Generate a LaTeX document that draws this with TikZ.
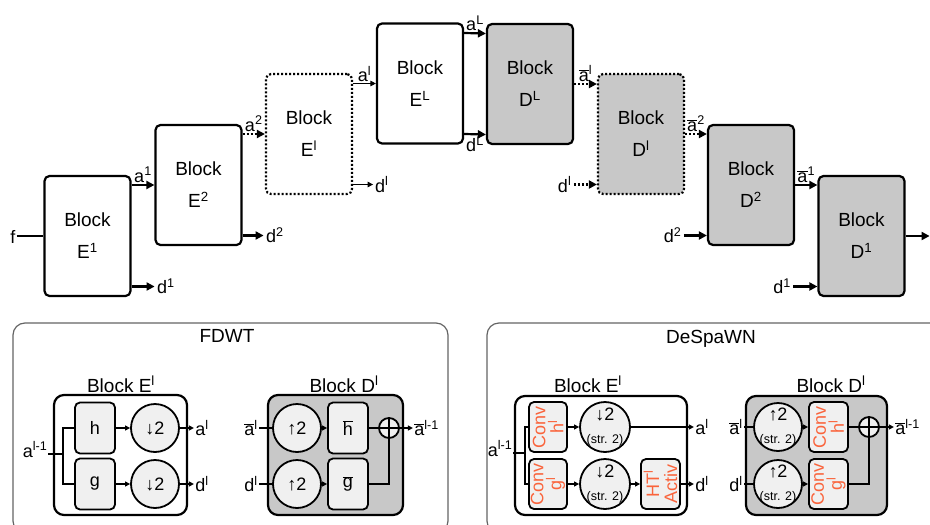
\documentclass[tikz,border=0pt]{standalone}
\usepackage{fontspec}
\setmainfont{Liberation Sans}
\usetikzlibrary{arrows.meta,calc}
\definecolor{dgray}{RGB}{200,200,200}
\definecolor{lgray}{RGB}{240,240,240}
\definecolor{convc}{RGB}{250,100,60}
\definecolor{framec}{RGB}{100,100,100}
\newcommand{\mysup}[1]{\textsuperscript{#1}}
\newcommand{\myab}{\ensuremath{\overline{\mbox{a}}}}
\newcommand{\myhb}{\ensuremath{\overline{\mbox{h}}}}
\newcommand{\mygb}{\ensuremath{\overline{\mbox{g}}}}
\newcommand{\mydn}{{\bfseries ↓}2}
\newcommand{\myup}{{\bfseries ↑}2}
\begin{document}
\begin{tikzpicture}[x=1pt,y=-1pt,
  font=\fontsize{18}{20}\selectfont,
  blk/.style={draw, line width=2.2pt, rounded corners=5pt, minimum width=86pt, minimum height=120pt, align=center, inner sep=0pt, font=\fontsize{19}{32}\selectfont},
  dotb/.style={dash pattern=on 2pt off 2pt},
  con/.style={line width=2.2pt, -{Triangle[length=8pt,width=8pt]}},
  conD/.style={con, dash pattern=on 2pt off 2pt},
  conT/.style={line width=1.1pt, -{Triangle[length=5.5pt,width=5.5pt]}},
  labl/.style={inner sep=1.5pt},
  outerbox/.style={draw, line width=2.2pt, rounded corners=10pt, inner sep=0pt},
  ibox/.style={draw, line width=1.8pt, rounded corners=5pt, fill=lgray, minimum width=40pt, minimum height=51pt, inner sep=0pt},
  cbox/.style={ibox, minimum width=38pt, minimum height=50pt},
  circ/.style={draw, circle, line width=1.8pt, fill=lgray, minimum size=48pt, inner sep=0pt},
  plusc/.style={draw, circle, line width=1.8pt, fill=lgray, minimum size=20pt, inner sep=0pt},
  sa/.style={line width=1.8pt, -{Triangle[length=5pt,width=5pt]}},
  sl/.style={line width=1.8pt},
  rot/.style={rotate=90, align=center, text=convc, inner sep=0pt, font=\fontsize{18}{18}\selectfont},
  strt/.style={inner sep=0pt, font=\fontsize{12.5}{14}\selectfont},
  ttl/.style={inner sep=0pt, font=\fontsize{19}{22}\selectfont}
]
\useasboundingbox (0,0) rectangle (930,525);

% ---------- top row ----------
\node[blk] (E1) at (87.5,236) {Block\\E\mysup{1}};
\node[blk] (E2) at (198.5,185) {Block\\E\mysup{2}};
\node[blk, dotb] (El) at (309,134) {Block\\E\mysup{l}};
\node[blk] (EL) at (420,83.5) {Block\\E\mysup{L}};
\node[blk, fill=dgray] (DL) at (530,84) {Block\\D\mysup{L}};
\node[blk, fill=dgray, dotb] (Dl) at (641,134) {Block\\D\mysup{l}};
\node[blk, fill=dgray] (D2) at (751,185) {Block\\D\mysup{2}};
\node[blk, fill=dgray] (D1) at (861.5,236) {Block\\D\mysup{1}};

\node[inner sep=1pt] (f) at (13,237) {f};
\draw[line width=2.2pt] (f.east |- E1.west) -- (E1.west);

\draw[con] (E1.east |- E2.west) -- (E2.west) node[midway, above, labl] {a\mysup{1}};
\draw[con] ($(E1.east)+(0,50.5)$) -- +(23,0) node[right, labl] {d\mysup{1}};
\draw[conD] (E2.east |- El.west) -- (El.west) node[midway, above, labl] {a\mysup{2}};
\draw[con] ($(E2.east)+(0,50.5)$) -- +(21,0) node[right, labl] {d\mysup{2}};
\draw[conT] (El.east |- EL.west) -- (EL.west) node[midway, above, labl] {a\mysup{l}};
\draw[conT] ($(El.east)+(0,50.5)$) -- +(20,0) node[right, labl] {d\mysup{l}};
\draw[con] ($(EL.east)+(0,-50.5)$) -- ($(DL.west)+(0,-50.5)$) node[midway, above, labl] {a\mysup{L}};
\draw[con] ($(EL.east)+(0,50.5)$) -- ($(DL.west)+(0,50.5)$) node[midway, below, labl] {d\mysup{L}};
\draw[conD] (DL.east) -- (DL.east -| Dl.west) node[midway, above, labl] {\myab\mysup{l}};
\draw[conD] ($(Dl.west)+(-23,50.5)$) node[left, labl] {d\mysup{l}} -- ($(Dl.west)+(0,50.5)$);
\draw[conD] (Dl.east) -- (Dl.east -| D2.west) node[midway, above, labl] {\myab\mysup{2}};
\draw[con] ($(D2.west)+(-23,50.5)$) node[left, labl] {d\mysup{2}} -- ($(D2.west)+(0,50.5)$);
\draw[con] (D2.east) -- (D2.east -| D1.west) node[midway, above, labl] {\myab\mysup{1}};
\draw[con] ($(D1.west)+(-24,50.5)$) node[left, labl] {d\mysup{1}} -- ($(D1.west)+(0,50.5)$);
\draw[con] (D1.east) -- +(24,0);

% ---------- panels ----------
\begin{scope}
\clip (0,0) rectangle (930,525);
\draw[framec, line width=1.2pt, rounded corners=12pt] (13,323) rectangle (448,533);
\draw[framec, line width=1.2pt, rounded corners=12pt] (487,323) rectangle (960,533);
\end{scope}
\node[ttl, anchor=base] at (227,342) {FDWT};
\node[ttl, anchor=base] at (711,343) {DeSpaWN};

% ---------- FDWT Block E ----------
\node[outerbox, minimum width=133pt, minimum height=120pt] (FE) at (120.5,455) {};
\node[ttl, anchor=base] at (121,392) {Block E\mysup{l}};
\node[ibox] (Fh) at (95,428) {h};
\node[ibox] (Fg) at (95,484) {g};
\node[circ] (Fc1) at (155,428) {\mydn};
\node[circ] (Fc2) at (155,484) {\mydn};
\coordinate (Fin) at (48,454);
\coordinate (Ffk) at (63,454);
\node[anchor=base east, inner sep=0.5pt] at (48,457) {a\mysup{l-1}};
\draw[sl] (Fin) -- (Ffk);
\draw[sl] (Fh.west) -| (Ffk) |- (Fg.west);
\draw[sa] (Fh) -- (Fc1);
\draw[sa] (Fg) -- (Fc2);
\draw[sa] (Fc1.east) -- +(14,0) node[right, inner sep=0.5pt] {a\mysup{l}};
\draw[sa] (Fc2.east) -- +(14,0) node[right, inner sep=0.5pt] {d\mysup{l}};

% ---------- FDWT Block D ----------
\node[outerbox, fill=dgray, minimum width=135pt, minimum height=120pt] (FD) at (335.5,455) {};
\node[ttl, anchor=base] at (344,392) {Block D\mysup{l}};
\node[circ] (Fu1) at (297,428) {\myup};
\node[circ] (Fu2) at (297,484) {\myup};
\node[ibox] (Fhb) at (348,428) {\myhb};
\node[ibox] (Fgb) at (348,484) {\mygb};
\node[plusc] (Fp) at (389,428) {};
\draw[sl] (Fp.north) -- (Fp.south) (Fp.west) -- (Fp.east);
\draw[sl] (Fu1.west) -- +(-13,0) node[left, inner sep=0.5pt] {\myab\mysup{l}};
\draw[sl] (Fu2.west) -- +(-13,0) node[left, inner sep=0.5pt] {d\mysup{l}};
\draw[sa] (Fu1) -- (Fhb);
\draw[sa] (Fu2) -- (Fgb);
\draw[sl] (Fhb) -- (Fp);
\draw[sl] (Fgb.east) -| (Fp.south);
\draw[sa] (Fp.east) -- +(13,0) node[right, inner sep=0.5pt] {\myab\mysup{l-1}};

% ---------- DeSpaWN Block E ----------
\node[outerbox, minimum width=172pt, minimum height=119pt] (SE) at (601,455.5) {};
\node[ttl, anchor=base] at (588,392) {Block E\mysup{l}};
\node[cbox] (Ch1) at (548,427) {};
\node[rot] at (Ch1) {Conv\\h\mysup{l}};
\node[cbox] (Cg1) at (548,484) {};
\node[rot] at (Cg1) {Conv\\g\mysup{l}};
\node[circ, minimum size=50pt] (Sc1) at (605,427) {};
\node[inner sep=0pt] at ($(Sc1)+(0,-13)$) {\mydn};
\node[strt] at ($(Sc1)+(0,13)$) {(str. 2)};
\node[circ, minimum size=50pt] (Sc2) at (605,484) {};
\node[inner sep=0pt] at ($(Sc2)+(0,-13)$) {\mydn};
\node[strt] at ($(Sc2)+(0,13)$) {(str. 2)};
\node[cbox, minimum width=39pt] (HT) at (660.5,484) {};
\node[rot] at (HT) {HT\mysup{l}\\Activ};
\coordinate (Sin) at (513,453);
\coordinate (Sfk) at (525,453);
\node[anchor=base east, inner sep=0.5pt] at (513,456) {a\mysup{l-1}};
\draw[sl] (Sin) -- (Sfk);
\draw[sl] (Ch1.west) -| (Sfk) |- (Cg1.west);
\draw[sa] (Ch1) -- (Sc1);
\draw[sa] (Cg1) -- (Sc2);
\draw[sa] (Sc2) -- (HT);
\draw[sa] (Sc1.east) -- +(63,0) node[right, inner sep=0.5pt] {a\mysup{l}};
\draw[sa] (HT.east) -- +(13,0) node[right, inner sep=0.5pt] {d\mysup{l}};

% ---------- DeSpaWN Block D ----------
\node[outerbox, fill=dgray, minimum width=141pt, minimum height=119pt] (SD) at (816.5,455.5) {};
\node[ttl, anchor=base] at (831,392) {Block D\mysup{l}};
\node[circ] (Su1) at (778,427) {};
\node[inner sep=0pt] at ($(Su1)+(0,-13)$) {\myup};
\node[strt] at ($(Su1)+(0,13)$) {(str. 2)};
\node[circ] (Su2) at (778,484) {};
\node[inner sep=0pt] at ($(Su2)+(0,-13)$) {\myup};
\node[strt] at ($(Su2)+(0,13)$) {(str. 2)};
\node[cbox, minimum width=39pt] (Chb) at (828.5,427) {};
\node[rot] at (Chb) {Conv\\h\mysup{l}};
\node[cbox, minimum width=39pt] (Cgb) at (828.5,484) {};
\node[rot] at (Cgb) {Conv\\g\mysup{l}};
\node[plusc] (Sp) at (869,427) {};
\draw[sl] (Sp.north) -- (Sp.south) (Sp.west) -- (Sp.east);
\draw[sl] (Su1.west) -- +(-9,0) node[left, inner sep=0.5pt] {\myab\mysup{l}};
\draw[sl] (Su2.west) -- +(-9,0) node[left, inner sep=0.5pt] {d\mysup{l}};
\draw[sa] (Su1) -- (Chb);
\draw[sa] (Su2) -- (Cgb);
\draw[sl] (Chb) -- (Sp);
\draw[sl] (Cgb.east) -| (Sp.south);
\draw[sa] (Sp.east) -- +(14,0) node[right, inner sep=0.5pt] {\myab\mysup{l-1}};
\end{tikzpicture}
\end{document}
